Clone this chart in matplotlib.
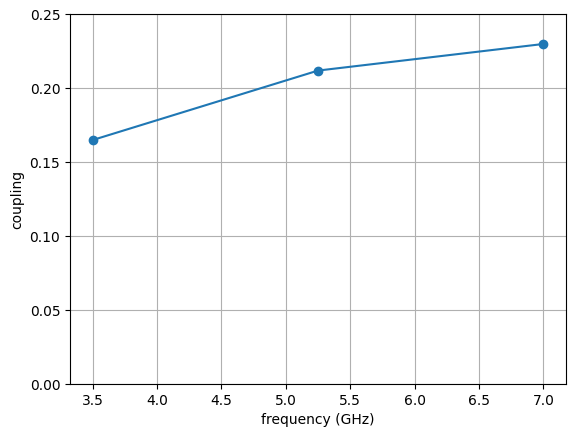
import matplotlib
matplotlib.use("Agg")
import matplotlib.pyplot as plt

frequency = [3.5, 5.25, 7.0]
coupling = [0.165, 0.212, 0.230]

W, H = 576, 438
fig = plt.figure(figsize=(W / 100, H / 100), dpi=100)
ax = fig.add_axes([70 / W, (H - 384) / H, 496 / W, 369.6 / H])
ax.plot(frequency, coupling, marker='o', color='#1f77b4')
ax.set_ylim(0, 0.25)
ax.set_xlabel('frequency (GHz)')
ax.set_ylabel('coupling')
ax.grid(True)
fig.savefig('out.png', dpi=100)
